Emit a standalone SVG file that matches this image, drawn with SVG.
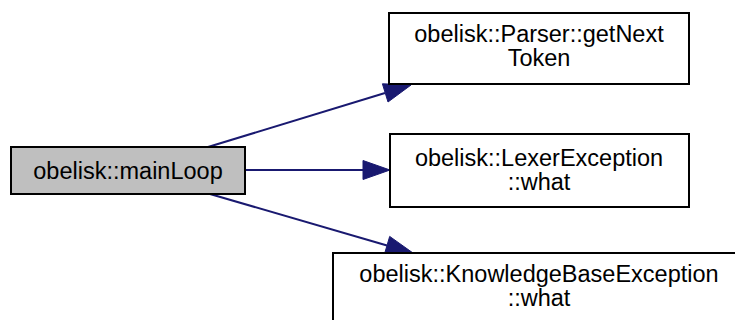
<svg xmlns="http://www.w3.org/2000/svg" width="735" height="320" viewBox="0 0 735 320">
  <style>
    .box { fill: #ffffff; stroke: #000000; stroke-width: 2; }
    .box.focus { fill: #bfbfbf; }
    .label { font-family: "Liberation Sans", Arial, Helvetica, sans-serif; font-size: 23.5px; fill: #000000; text-anchor: middle; }
    .edge { fill: none; stroke: #191970; stroke-width: 2; }
    .head { fill: #191970; stroke: #191970; stroke-width: 1; }
  </style>
  <rect width="735" height="320" fill="#ffffff"/>

  <!-- call edges -->
  <g id="edges">
    <path class="edge" d="M208,147 L385,93"/>
    <polygon class="head" points="411,85 388,102 382.4,83.8"/>
    <path class="edge" d="M245,170 L364,170"/>
    <polygon class="head" points="390,170 363,160.5 363,179.5"/>
    <path class="edge" d="M210,194 L387,245.5"/>
    <polygon class="head" points="413,253 384.3,254.6 389.7,236.4"/>
  </g>

  <g id="node-mainLoop">
    <rect class="box focus" x="11" y="147" width="234" height="47"/>
    <text class="label" x="128" y="179">obelisk::mainLoop</text>
  </g>

  <g id="node-getNextToken">
    <rect class="box" x="389" y="13" width="300" height="71"/>
    <text class="label" x="539" y="42">obelisk::Parser::getNext</text>
    <text class="label" x="539" y="66">Token</text>
  </g>

  <g id="node-lexer-what">
    <rect class="box" x="390" y="134" width="299" height="73"/>
    <text class="label" x="539" y="166">obelisk::LexerException</text>
    <text class="label" x="539" y="190">::what</text>
  </g>

  <g id="node-kb-what">
    <rect class="box" x="333" y="253" width="412" height="80"/>
    <text class="label" x="539" y="282">obelisk::KnowledgeBaseException</text>
    <text class="label" x="539" y="306">::what</text>
  </g>
</svg>
